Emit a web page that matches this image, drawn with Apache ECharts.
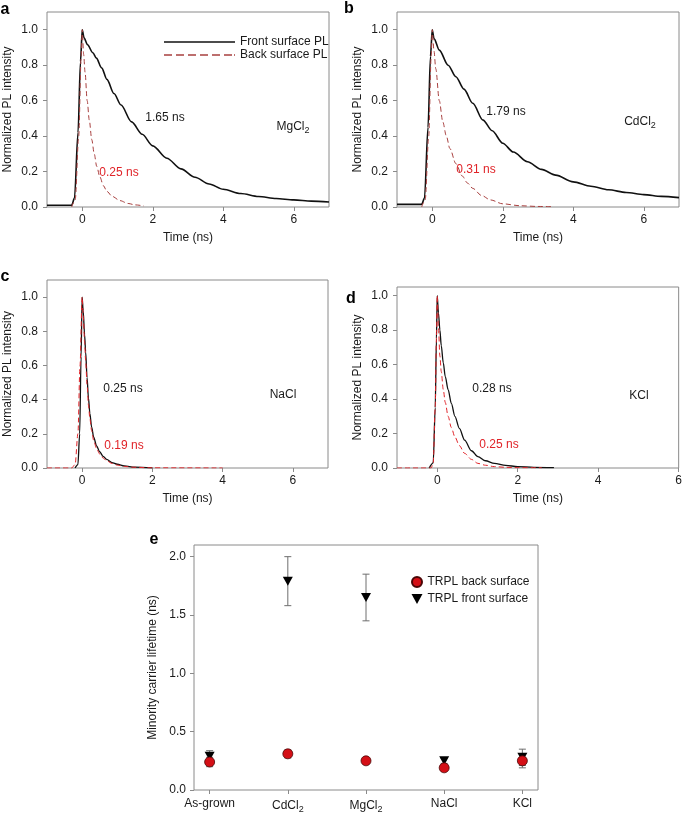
<!DOCTYPE html>
<html>
<head>
<meta charset="utf-8">
<script src="https://cdn.jsdelivr.net/npm/echarts@6/dist/echarts.min.js"></script>
<style>
html, body { margin: 0; padding: 0; background: #fff; }
#chart { width: 685px; height: 815px; }
</style>
</head>
<body>
<div id="chart"></div>
<script>
// a - MgCl2  [time (ns), normalized PL]
const aFront = [[-1, 0.01], [-0.3, 0.01], [-0.22, 0.05], [-0.12, 0.42], [-0.05, 0.82], [0, 1.0], [0.05, 0.955], [0.15, 0.915], [0.3, 0.87], [0.4, 0.84], [0.55, 0.785], [0.7, 0.72], [0.9, 0.64], [1.1, 0.575], [1.4, 0.48], [1.7, 0.41], [2.0, 0.345], [2.4, 0.275], [2.8, 0.215], [3.2, 0.168], [3.6, 0.13], [4.0, 0.1], [4.5, 0.076], [5.0, 0.059], [5.5, 0.048], [6.0, 0.04], [6.5, 0.033], [7.0, 0.028]];
const aBack = [[-0.3, 0.0], [-0.2, 0.04], [-0.1, 0.4], [-0.03, 0.85], [0, 1.0], [0.04, 0.86], [0.08, 0.76], [0.14, 0.6], [0.2, 0.49], [0.27, 0.38], [0.34, 0.3], [0.41, 0.23], [0.5, 0.17], [0.6, 0.12], [0.7, 0.088], [0.85, 0.06], [1.07, 0.036], [1.3, 0.02], [1.5, 0.012], [1.75, 0.006]];

// b - CdCl2
const bFront = [[-1, 0.015], [-0.3, 0.015], [-0.22, 0.05], [-0.12, 0.45], [-0.05, 0.85], [0, 1.0], [0.05, 0.95], [0.2, 0.885], [0.45, 0.8], [0.67, 0.735], [0.9, 0.665], [1.15, 0.585], [1.44, 0.49], [1.7, 0.43], [2.0, 0.36], [2.3, 0.31], [2.7, 0.255], [3.1, 0.212], [3.5, 0.18], [4.0, 0.142], [4.5, 0.117], [5.0, 0.097], [5.5, 0.082], [6.0, 0.07], [6.5, 0.06], [7.0, 0.053]];
const bBack = [[-0.3, 0.0], [-0.2, 0.04], [-0.1, 0.4], [-0.03, 0.85], [0, 1.0], [0.05, 0.88], [0.1, 0.78], [0.2, 0.6], [0.3, 0.48], [0.4, 0.4], [0.5, 0.33], [0.67, 0.245], [0.85, 0.175], [1.0, 0.135], [1.15, 0.105], [1.4, 0.065], [1.65, 0.04], [2.0, 0.018], [2.5, 0.007], [3.0, 0.003], [3.4, 0.002]];

// c - NaCl
const cFront = [[-0.2, 0.0], [-0.12, 0.02], [-0.07, 0.2], [-0.03, 0.65], [0, 1.0], [0.03, 0.92], [0.07, 0.78], [0.1, 0.68], [0.14, 0.53], [0.18, 0.41], [0.22, 0.32], [0.27, 0.24], [0.33, 0.18], [0.41, 0.13], [0.5, 0.095], [0.6, 0.068], [0.7, 0.05], [0.85, 0.032], [1.0, 0.022], [1.2, 0.012], [1.5, 0.005], [2.0, 0.001]];
const cBack = [[-1, 0.0], [-0.3, 0.0], [-0.2, 0.02], [-0.12, 0.2], [-0.06, 0.6], [0, 1.0], [0.03, 0.9], [0.07, 0.74], [0.1, 0.63], [0.14, 0.49], [0.18, 0.37], [0.22, 0.29], [0.27, 0.22], [0.33, 0.16], [0.41, 0.115], [0.5, 0.082], [0.6, 0.058], [0.7, 0.042], [0.85, 0.027], [1.0, 0.017], [1.2, 0.009], [1.5, 0.004], [2.0, 0.001], [4.0, 0.0]];

// d - KCl
const dFront = [[-0.2, 0.0], [-0.1, 0.03], [-0.05, 0.35], [-0.02, 0.75], [0, 1.0], [0.03, 0.9], [0.066, 0.8], [0.1, 0.71], [0.15, 0.61], [0.2, 0.53], [0.27, 0.455], [0.35, 0.375], [0.44, 0.3], [0.55, 0.23], [0.68, 0.162], [0.85, 0.1], [1.01, 0.066], [1.2, 0.042], [1.42, 0.027], [1.7, 0.015], [2.0, 0.008], [2.4, 0.004], [2.9, 0.002]];
const dBack = [[-1, 0.0], [-0.15, 0.0], [-0.1, 0.03], [-0.05, 0.35], [-0.02, 0.75], [0, 1.0], [0.03, 0.82], [0.066, 0.65], [0.1, 0.56], [0.15, 0.455], [0.2, 0.38], [0.27, 0.3], [0.35, 0.235], [0.44, 0.18], [0.55, 0.13], [0.68, 0.085], [0.85, 0.05], [1.01, 0.027], [1.2, 0.016], [1.42, 0.008], [1.7, 0.004], [2.0, 0.002], [2.6, 0.001]];

// e - lifetimes
const samples = ['As-grown', 'CdCl2', 'MgCl2', 'NaCl', 'KCl'];
const backLife = [0.24, 0.31, 0.25, 0.19, 0.25];
const backErr = [0.04, 0.035, 0.02, 0.02, 0.06];
const frontLife = [0.29, 1.79, 1.65, 0.25, 0.28];
const frontErr = [0.047, 0.21, 0.2, 0.022, 0.07];

const timeTicks = [0, 2, 4, 6];
const plTicks = [0, 0.2, 0.4, 0.6, 0.8, 1.0];
const lifeTicks = [0, 0.5, 1.0, 1.5, 2.0];

const FONT = "'Liberation Sans', Arial, sans-serif";
const FRAME = '#8a8a8a';
const TXT = '#1a1a1a';
const subRich = {
    s: { fontSize: 9, fontFamily: FONT, color: TXT, padding: [7, 0, 0, 0] }
};
const chem = name => name.replace(/Cl2$/, 'Cl{s|2}');

const chartDom = document.getElementById('chart');
const chart = echarts.init(chartDom);

// 面板位置
const boxes = [
    { left: 47, top: 12, width: 282, height: 195 },
    { left: 397, top: 12, width: 282, height: 195 },
    { left: 47, top: 280, width: 281, height: 188 },
    { left: 397, top: 287, width: 284, height: 181 },
    { left: 194, top: 545, width: 344, height: 245 }
];

const xAxisBase = (gi, max) => ({
    type: 'value', gridIndex: gi, min: -1, max: max,
    name: 'Time (ns)', nameLocation: 'middle', nameGap: 25,
    nameTextStyle: { fontFamily: FONT, fontSize: 12, color: TXT },
    axisLine: { show: false, onZero: false },
    axisTick: { show: true, length: 4, customValues: timeTicks, lineStyle: { color: FRAME } },
    axisLabel: { customValues: timeTicks, fontFamily: FONT, fontSize: 12, color: TXT, margin: 7 },
    splitLine: { show: false }
});
const yAxisBase = (gi, max) => ({
    type: 'value', gridIndex: gi, min: 0, max: max,
    name: 'Normalized PL intensity', nameLocation: 'middle', nameGap: 33,
    nameTextStyle: { fontFamily: FONT, fontSize: 12, color: TXT },
    axisLine: { show: false, onZero: false },
    axisTick: { show: true, length: 4, customValues: plTicks, lineStyle: { color: FRAME } },
    axisLabel: { customValues: plTicks, formatter: v => v.toFixed(1), fontFamily: FONT, fontSize: 12, color: TXT, margin: 9 },
    splitLine: { show: false }
});

const curve = (name, gi, data, color, dashed, width) => ({
    name: name, type: 'line', xAxisIndex: gi, yAxisIndex: gi,
    data: data, showSymbol: false, symbol: 'none',
    smooth: 0.3, smoothMonotone: 'x', silent: true,
    lineStyle: { color: color, width: width, type: dashed ? [5, 3] : 'solid' },
    itemStyle: { color: color },
    z: dashed ? 3 : 2
});

const errorBars = (data, color) => ({
    type: 'custom', xAxisIndex: 4, yAxisIndex: 4, silent: true, z: 1,
    data: data,
    encode: { x: 0, y: [1, 2] },
    renderItem: (params, api) => {
        const lo = api.coord([api.value(0), api.value(1)]);
        const hi = api.coord([api.value(0), api.value(2)]);
        const w = 3.5;
        const st = { stroke: color, lineWidth: 1 };
        return {
            type: 'group',
            children: [
                { type: 'line', shape: { x1: lo[0], y1: lo[1], x2: hi[0], y2: hi[1] }, style: st },
                { type: 'line', shape: { x1: lo[0] - w, y1: lo[1], x2: lo[0] + w, y2: lo[1] }, style: st },
                { type: 'line', shape: { x1: hi[0] - w, y1: hi[1], x2: hi[0] + w, y2: hi[1] }, style: st }
            ]
        };
    }
});

const txt = (x, y, text, color, extra) => ({
    type: 'text', x: x, y: y, silent: true,
    style: Object.assign({ text: text, fill: color || TXT, fontFamily: FONT, fontSize: 12, align: 'center', verticalAlign: 'middle', rich: subRich }, extra || {})
});
const letter = (x, y, t) => txt(x, y, t, '#000', { fontSize: 16, fontWeight: 'bold' });

const RED = '#e02328';
const BROWN = '#a8403f';
const BLACK = '#111';

// legend line icons (solid / dashed), 71 x 2
const solidIcon = 'path://M0,0h71v2h-71z';
const dashIcon = 'path://M0,0h8v2h-8z M12,0h8v2h-8z M24,0h8v2h-8z M36,0h8v2h-8z M48,0h8v2h-8z M60,0h8v2h-8z M70,0h1v2h-1z';

const option = {
    animation: false,
    backgroundColor: '#fff',
    grid: boxes.map(b => Object.assign({ show: true, borderColor: FRAME, borderWidth: 1, backgroundColor: 'transparent', containLabel: false }, b)),
    xAxis: [
        xAxisBase(0, 7), xAxisBase(1, 7), xAxisBase(2, 7), xAxisBase(3, 6),
        {
            type: 'value', gridIndex: 4, min: -0.2, max: 4.2,
            axisLine: { show: false, onZero: false },
            axisTick: { show: true, length: 4, customValues: [0, 1, 2, 3, 4], lineStyle: { color: FRAME } },
            axisLabel: {
                customValues: [0, 1, 2, 3, 4], fontFamily: FONT, fontSize: 12, color: TXT, margin: 8,
                formatter: v => chem(samples[Math.round(v)]),
                rich: subRich
            },
            splitLine: { show: false }
        }
    ],
    yAxis: [
        yAxisBase(0, 1.1), yAxisBase(1, 1.1), yAxisBase(2, 1.1), yAxisBase(3, 1.05),
        {
            type: 'value', gridIndex: 4, min: 0, max: 2.1,
            name: 'Minority carrier lifetime (ns)', nameLocation: 'middle', nameGap: 31,
            nameTextStyle: { fontFamily: FONT, fontSize: 12, color: TXT },
            axisLine: { show: false, onZero: false },
            axisTick: { show: true, length: 4, customValues: lifeTicks, lineStyle: { color: FRAME } },
            axisLabel: { customValues: lifeTicks, formatter: v => v.toFixed(1), fontFamily: FONT, fontSize: 12, color: TXT, margin: 8 },
            splitLine: { show: false }
        }
    ],
    legend: [
        {
            data: [
                { name: 'Front surface PL', icon: solidIcon, itemStyle: { color: BLACK } },
                { name: 'Back surface PL', icon: dashIcon, itemStyle: { color: BROWN } }
            ],
            orient: 'vertical', left: 159, top: 31,
            itemWidth: 71, itemHeight: 1.5, itemGap: 1,
            symbolKeepAspect: false,
            selectedMode: false,
            textStyle: { fontFamily: FONT, fontSize: 12, color: TXT }
        },
        {
            data: ['TRPL back surface', 'TRPL front surface'],
            orient: 'vertical', left: 406, top: 571,
            itemWidth: 11, itemHeight: 10, itemGap: 5,
            selectedMode: false,
            textStyle: { fontFamily: FONT, fontSize: 12, color: TXT }
        }
    ],
    series: [
        curve('Front surface PL', 0, aFront, BLACK, false, 1.6),
        curve('Back surface PL', 0, aBack, BROWN, true, 1),
        curve('b front', 1, bFront, BLACK, false, 1.6),
        curve('b back', 1, bBack, BROWN, true, 1),
        curve('c front', 2, cFront, BLACK, false, 1.3),
        curve('c back', 2, cBack, RED, true, 1),
        curve('d front', 3, dFront, BLACK, false, 1.3),
        curve('d back', 3, dBack, RED, true, 1),
        errorBars(frontLife.map((v, i) => [i, v - frontErr[i], v + frontErr[i]]), '#6e6e6e'),
        errorBars(backLife.map((v, i) => [i, v - backErr[i], v + backErr[i]]), '#6e6e6e'),
        {
            name: 'TRPL front surface', type: 'scatter', xAxisIndex: 4, yAxisIndex: 4,
            data: frontLife.map((v, i) => [i, v]),
            symbol: 'path://M0,0 L10,0 L5,9 Z', symbolSize: [10, 9],
            itemStyle: { color: '#000', opacity: 1 }, z: 3
        },
        {
            name: 'TRPL back surface', type: 'scatter', xAxisIndex: 4, yAxisIndex: 4,
            data: backLife.map((v, i) => [i, v]),
            symbol: 'circle', symbolSize: 10,
            itemStyle: { color: '#d40f16', borderColor: '#4a0606', borderWidth: 0.8, opacity: 1 }, z: 4
        }
    ],
    graphic: [
        letter(5, 10, 'a'), letter(349, 9, 'b'), letter(5, 277, 'c'), letter(351, 299, 'd'), letter(154, 540, 'e'),
        // a
        txt(165, 118, '1.65 ns'), txt(293, 127, chem('MgCl2')), txt(119, 173, '0.25 ns', RED),
        // b
        txt(506, 112, '1.79 ns'), txt(640, 122, chem('CdCl2')), txt(476, 170, '0.31 ns', RED),
        // c
        txt(123, 389, '0.25 ns'), txt(283, 395, 'NaCl'), txt(124, 446, '0.19 ns', RED),
        // d
        txt(492, 389, '0.28 ns'), txt(639, 396, 'KCl'), txt(499, 445, '0.25 ns', RED)
    ]
};

chart.setOption(option);
</script>
</body>
</html>
